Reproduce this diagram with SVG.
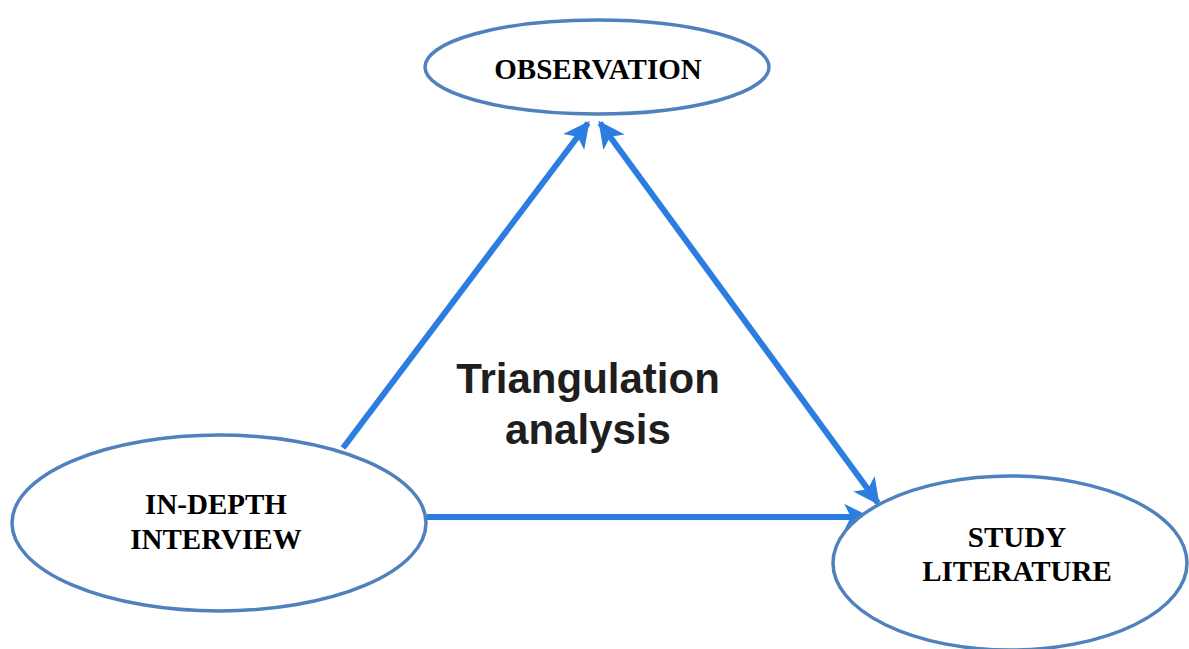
<svg xmlns="http://www.w3.org/2000/svg" width="1189" height="649" viewBox="0 0 1189 649">
<defs>
<style>
.node ellipse{fill:#fff;stroke:#4f81bd;stroke-width:3.5}
.lbl{font-family:"Liberation Serif",serif;font-weight:bold;font-size:29px;fill:#000;text-anchor:middle}
.conn line{stroke:#2b7de0;stroke-width:6}
.center{font-family:"Liberation Sans",Arial,sans-serif;font-size:42px;fill:#1e1e1e;text-anchor:middle;font-weight:bold}
</style>
<marker id="ah" viewBox="0 0 10 10" refX="9" refY="5" markerWidth="5" markerHeight="4.4" orient="auto-start-reverse" markerUnits="strokeWidth">
<path d="M0,0 L10,5 L0,10 L2.5,5 Z" fill="#2b7de0"/>
</marker>
</defs>
<rect width="1189" height="649" fill="#fff"/>
<g class="conn">
<line x1="343" y1="448" x2="588" y2="123" marker-end="url(#ah)"/>
<line x1="600" y1="123" x2="878" y2="503" marker-start="url(#ah)" marker-end="url(#ah)"/>
<line x1="427" y1="517" x2="868" y2="517" marker-end="url(#ah)"/>
</g>
<g id="observation" class="node">
<ellipse cx="597" cy="67" rx="172" ry="47"/>
<text class="lbl" x="598" y="79">OBSERVATION</text>
</g>
<g id="interview" class="node">
<ellipse cx="219" cy="523" rx="207" ry="88"/>
<text class="lbl" x="216" y="514">IN-DEPTH</text>
<text class="lbl" x="216" y="549">INTERVIEW</text>
</g>
<g id="literature" class="node">
<ellipse cx="1010" cy="563" rx="177" ry="87"/>
<text class="lbl" x="1017" y="547">STUDY</text>
<text class="lbl" x="1017" y="581">LITERATURE</text>
</g>
<g id="label">
<text class="center" x="588" y="393">Triangulation</text>
<text class="center" x="588" y="444">analysis</text>
</g>
</svg>
